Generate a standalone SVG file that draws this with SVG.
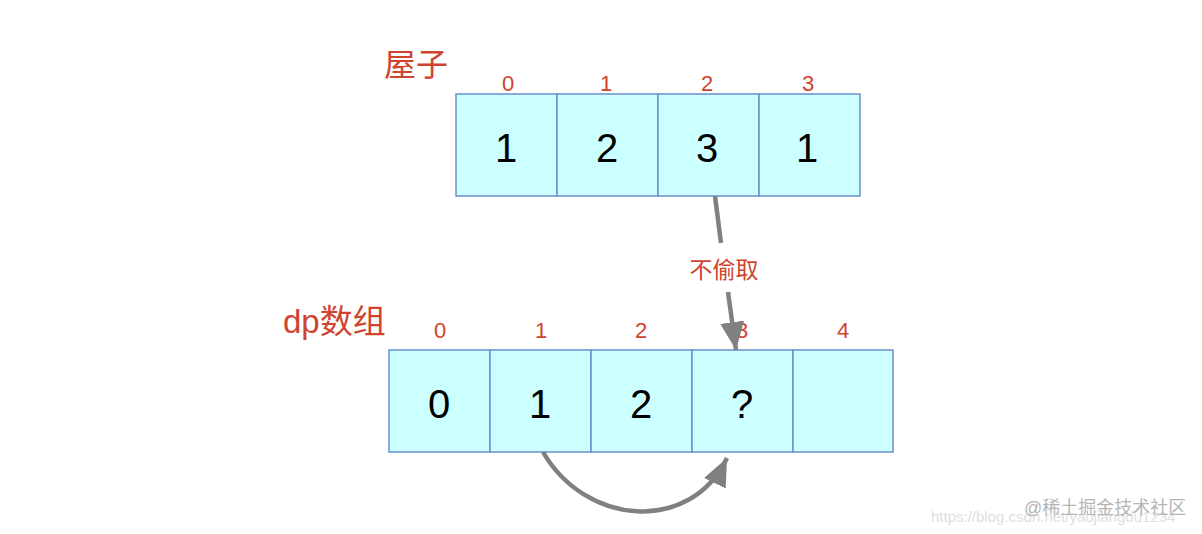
<svg xmlns="http://www.w3.org/2000/svg" width="1202" height="534" viewBox="0 0 1202 534">
<style>
.cell{fill:#ccffff;stroke:#6a8fd0;stroke-width:1.5}
.num{font-family:"Liberation Sans",Arial,sans-serif;font-size:40px;fill:#000;text-anchor:middle}
.idx{font-family:"Liberation Sans",Arial,sans-serif;font-size:22px;fill:#d0432e;text-anchor:middle}
.title{font-family:"Liberation Sans","Noto Sans CJK SC",sans-serif;fill:#d0432e}
.conn{fill:none;stroke:#808080;stroke-width:4.5}
.wm{font-family:"Liberation Sans","Noto Sans CJK SC",sans-serif}
</style>
<defs>
<marker id="ah" markerUnits="userSpaceOnUse" markerWidth="30" markerHeight="28" refX="28" refY="14" orient="auto" viewBox="0 0 30 28">
<path d="M0,2 L28,14 L0,26 z" fill="#808080"/>
</marker>
</defs>
<rect width="1202" height="534" fill="#ffffff"/>
<text class="title" x="384" y="76" font-size="32">屋子</text>
<text class="title" x="283" y="333" font-size="33">dp数组</text>
<g id="house">
<g id="h0"><rect class="cell" x="456" y="94" width="101" height="102"/><text class="idx" x="508" y="91">0</text><text class="num" x="506" y="162">1</text></g>
<g id="h1"><rect class="cell" x="557" y="94" width="101" height="102"/><text class="idx" x="606" y="91">1</text><text class="num" x="607" y="162">2</text></g>
<g id="h2"><rect class="cell" x="658" y="94" width="101" height="102"/><text class="idx" x="707" y="91">2</text><text class="num" x="707" y="162">3</text></g>
<g id="h3"><rect class="cell" x="759" y="94" width="101" height="102"/><text class="idx" x="808" y="91">3</text><text class="num" x="807" y="162">1</text></g>
</g>
<g id="dp">
<g id="d0"><rect class="cell" x="389" y="350" width="101" height="102"/><text class="idx" x="440" y="338">0</text><text class="num" x="439" y="418">0</text></g>
<g id="d1"><rect class="cell" x="490" y="350" width="101" height="102"/><text class="idx" x="541" y="338">1</text><text class="num" x="540" y="418">1</text></g>
<g id="d2"><rect class="cell" x="591" y="350" width="101" height="102"/><text class="idx" x="641" y="338">2</text><text class="num" x="641" y="418">2</text></g>
<g id="d3"><rect class="cell" x="692" y="350" width="101" height="102"/><text class="idx" x="742" y="338">3</text><text class="num" x="742" y="418">?</text></g>
<g id="d4"><rect class="cell" x="793" y="350" width="100" height="102"/><text class="idx" x="843" y="338">4</text></g>
</g>
<g id="connectors">
<path class="conn" d="M715,196 L721,243"/>
<path class="conn" d="M728,292 L736,350" marker-end="url(#ah)"/>
<text x="724" y="278" font-size="23" text-anchor="middle" class="title">不偷取</text>
<path class="conn" d="M543,452 C585,525 690,535 727,458" marker-end="url(#ah)"/>
</g>
<g id="watermark">
<text class="wm" x="931" y="522" font-size="15" fill="#e0e0e0">https://blog.csdn.net/yaojiangdu1234</text>
<text class="wm" x="1024" y="514" font-size="18" fill="#b5b5b5">@稀土掘金技术社区</text>
</g>
</svg>
